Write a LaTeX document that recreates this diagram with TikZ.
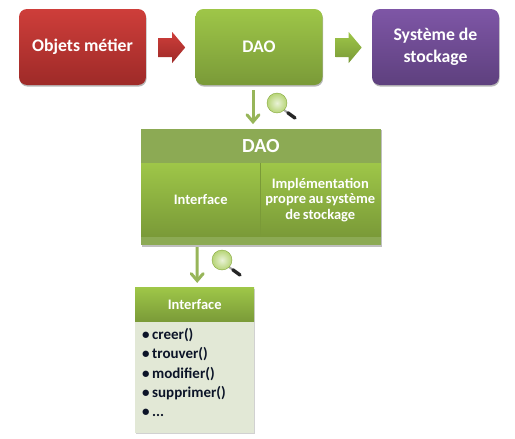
\documentclass[tikz,border=0pt]{standalone}
\usepackage{fontspec}
\setmainfont{Carlito}
\usetikzlibrary{shadows,calc}
\definecolor{gA}{RGB}{158,198,72}
\definecolor{gB}{RGB}{122,154,56}
\definecolor{gH}{RGB}{140,170,84}
\definecolor{gS}{RGB}{150,178,92}
\definecolor{rA}{RGB}{206,62,58}
\definecolor{rB}{RGB}{158,42,40}
\definecolor{vA}{RGB}{126,86,166}
\definecolor{vB}{RGB}{94,64,126}
\definecolor{pale}{RGB}{226,232,214}
\definecolor{ink}{RGB}{12,20,40}
\newcommand{\tightwords}{\spaceskip=.17em\relax}
\tikzset{
  softshadow/.style={drop shadow={shadow xshift=0.6pt,shadow yshift=-1.6pt,opacity=.28,fill=black}},
  topbox/.style={rounded corners=8pt,minimum width=127pt,minimum height=76pt,inner sep=2pt,align=center,
    text=white,font=\bfseries\fontsize{17.7}{22}\selectfont,softshadow},
  redbox/.style={topbox,top color=rA,bottom color=rB},
  greenbox/.style={topbox,top color=gA,bottom color=gB},
  violetbox/.style={topbox,top color=vA,bottom color=vB},
  band/.style={minimum height=34pt,inner sep=0pt,text=white,font=\bfseries\fontsize{20}{22}\selectfont},
  cell/.style={minimum height=73pt,inner sep=1pt,align=center,text=white,top color=gA,bottom color=gB,
    font=\bfseries\fontsize{14.5}{15.5}\selectfont},
  downline/.style={draw=gS!85!gA,line width=3pt},
  chevron/.style={draw=gS!85!gA,line width=3pt,line cap=round,line join=miter},
  lens/.style={circle,minimum size=20pt,inner sep=0pt,draw=gB!70!gA,line width=.4pt,inner color=gA!22!white,outer color=gA!75!white},
  handleA/.style={draw=black!85,line width=3.4pt,line cap=round},
  handleB/.style={draw=gray!70,line width=2pt},
}
\begin{document}
\begin{tikzpicture}[x=1pt,y=-1pt]
\useasboundingbox (0,0) rectangle (515,439);
% top row
\node[redbox] (obj) at (82.5,47) {Objets métier};
\node[greenbox] (dao) at (259,47) {DAO};
\node[violetbox] (sys) at (435.5,47) {Système de\\stockage};
\coordinate (a1) at ($(obj.east)+(0,0.5)$);
\coordinate (a2) at ($(dao.east)+(0,0.5)$);
\path[top color=rA,bottom color=rB] ($(a1)+(12,-9.5)$) -- ++(14,0) -- ++(0,-6) -- ++(13,15.5) -- ++(-13,15.5) -- ++(0,-6) -- ++(-14,0) -- cycle;
\path[top color=gA,bottom color=gB] ($(a2)+(13,-9.5)$) -- ++(13,0) -- ++(0,-6) -- ++(13,15.5) -- ++(-13,15.5) -- ++(0,-6) -- ++(-13,0) -- cycle;
% big DAO block
\fill[black,opacity=.25] (141.6,130) rectangle (381.6,246.5);
\node[minimum width=240pt,minimum height=116pt,inner sep=0pt,fill=gH] (frame) at (261,187) {};
\node[band,minimum width=240pt,anchor=north] (head) at (frame.north) {DAO};
\node[cell,minimum width=119pt,text width=117pt,anchor=north west] (ifc) at (141,163) {Interface};
\node[cell,minimum width=121pt,text width=119pt,anchor=north east] (impl) at (381,163) {\tightwords Implémentation\\propre au système\\de stockage};
\draw[gB,line width=.6pt] (ifc.north east) -- (ifc.south east);
% interface block
\fill[black,opacity=.18] (135.6,289) rectangle (254.6,434);
\node[minimum width=119pt,minimum height=111pt,inner sep=0pt,fill=pale,anchor=north west] (body) at (135,322) {};
\node[minimum width=119pt,minimum height=34pt,inner sep=0pt,anchor=south west,top color=gA,bottom color=gB,
  text=white,font=\bfseries\fontsize{14.5}{16}\selectfont] (ihead) at (135,322) {Interface};
\node[anchor=north west,inner sep=0pt,align=left,text=ink,font=\bfseries\fontsize{15}{19.4}\selectfont] (list) at (142,328)
  {\textbullet\,creer()\\\textbullet\,trouver()\\\textbullet\,modifier()\\\textbullet\,supprimer()\\\textbullet\,...};
% down arrows
\coordinate (d1s) at ($(dao.south)+(-6,5)$);
\coordinate (d1e) at ($(head.north)+(-8,-7)$);
\coordinate (d2s) at ($(frame.south)+(-64,2)$);
\coordinate (d2e) at ($(ihead.north)+(2.5,-7)$);
\draw[downline] (d1s) -- (d1e);
\draw[chevron] ($(d1e)+(-6,-7)$) -- (d1e) -- ($(d1e)+(6,-7)$);
\draw[downline] (d2s) -- (d2e);
\draw[chevron] ($(d2e)+(-6,-7)$) -- (d2e) -- ($(d2e)+(6,-7)$);
% magnifiers
\coordinate (h1a) at (284,110);
\coordinate (h1b) at (295,118);
\draw[handleB] (h1a) -- (h1b);
\draw[handleA] ($(h1a)!.35!(h1b)$) -- (h1b);
\node[lens] (m1) at (277,103) {};
\coordinate (h2a) at (229,267);
\coordinate (h2b) at (240,275);
\draw[handleB] (h2a) -- (h2b);
\draw[handleA] ($(h2a)!.35!(h2b)$) -- (h2b);
\node[lens] (m2) at (222,260) {};
\end{tikzpicture}
\end{document}
